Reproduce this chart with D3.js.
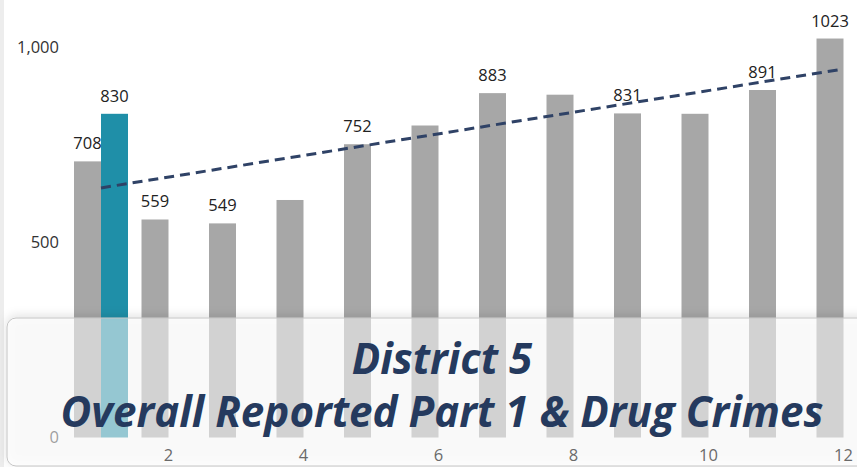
<!DOCTYPE html>
<html>
<head>
<meta charset="utf-8">
<script src="https://cdn.jsdelivr.net/npm/d3@7"></script>
<style>
  html, body { margin: 0; padding: 0; background: #ffffff; }
  svg { display: block; }
</style>
</head>
<body>
<svg id="chart" width="857" height="467"></svg>
<script>
// ---- data ----
const months = [1, 2, 3, 4, 5, 6, 7, 8, 9, 10, 11, 12];
const grayValues = [708, 559, 549, 609, 752, 800, 883, 879, 831, 830, 891, 1023];
const labelledMonths = [1, 2, 3, 5, 7, 9, 11, 12];
const tealMonths = [1];
const tealValues = [830];
const trendMonths = [1, 12];
const trendValues = [640, 945];
const yTicks = [0, 500, 1000];
const xTicks = [2, 4, 6, 8, 10, 12];
const titleLines = ["District 5", "Overall Reported Part 1 & Drug Crimes"];

// ---- layout ----
const W = 857, H = 467;
const svg = d3.select("#chart");
const FONT = "'Open Sans', 'Noto Sans', sans-serif";

const x = d3.scaleBand().domain(months).range([74, 870.5]).paddingInner(0.2).paddingOuter(0);
const sub = d3.scaleBand().domain(["gray", "teal"]).range([0, x.bandwidth()]);
const y = d3.scaleLinear().domain([0, 1000]).range([437.5, 47.5]);

// faint left edge strip
svg.append("rect").attr("x", 0).attr("y", 0).attr("width", 4).attr("height", H).attr("fill", "#ededed");

// y axis
const yAxis = svg.append("g").attr("transform", "translate(59,0)")
  .call(d3.axisLeft(y).tickValues(yTicks).tickFormat(d3.format(",")).tickSize(0).tickPadding(0));
yAxis.select(".domain").remove();
yAxis.selectAll("text").attr("font-family", FONT).attr("font-size", 16.5).attr("fill", "#333");

// gray bars
const grayData = months.map((m, i) => ({ m, v: grayValues[i] }));
svg.append("g").selectAll("rect").data(grayData).join("rect")
  .attr("x", d => x(d.m) + sub("gray"))
  .attr("y", d => y(d.v))
  .attr("width", sub.bandwidth())
  .attr("height", d => y(0) - y(d.v))
  .attr("fill", "#a7a7a7");

// teal bars
const tealData = tealMonths.map((m, i) => ({ m, v: tealValues[i] }));
svg.append("g").selectAll("rect").data(tealData).join("rect")
  .attr("x", d => x(d.m) + sub("teal"))
  .attr("y", d => y(d.v))
  .attr("width", sub.bandwidth())
  .attr("height", d => y(0) - y(d.v))
  .attr("fill", "#1f8fa8");

// labels
const labelG = svg.append("g").attr("font-family", FONT).attr("font-size", 16.5).attr("fill", "#222").attr("text-anchor", "middle");
labelG.selectAll("text.g").data(grayData.filter(d => labelledMonths.includes(d.m))).join("text")
  .attr("class", "g")
  .attr("x", d => x(d.m) + sub("gray") + sub.bandwidth() / 2)
  .attr("y", d => y(d.v) - 12)
  .text(d => d.v);
labelG.selectAll("text.t").data(tealData).join("text")
  .attr("class", "t")
  .attr("x", d => x(d.m) + sub("teal") + sub.bandwidth() / 2)
  .attr("y", d => y(d.v) - 12)
  .text(d => d.v);

// trend line
const trendData = trendMonths.map((m, i) => ({ m, v: trendValues[i] }));
svg.append("path").datum(trendData)
  .attr("d", d3.line().x(d => x(d.m) + x.bandwidth() / 2).y(d => y(d.v)))
  .attr("fill", "none")
  .attr("stroke", "#2f4266")
  .attr("stroke-width", 3)
  .attr("stroke-dasharray", "10,6");

// overlay box with shadow
const defs = svg.append("defs");
const f = defs.append("filter").attr("id", "sh").attr("x", "-10%").attr("y", "-30%").attr("width", "120%").attr("height", "160%");
f.append("feDropShadow").attr("dx", 0).attr("dy", -2).attr("stdDeviation", 5).attr("flood-color", "#000").attr("flood-opacity", 0.2);

svg.append("rect")
  .attr("x", 7).attr("y", 318).attr("width", 880).attr("height", 148).attr("rx", 9)
  .attr("fill", "#ffffff").attr("fill-opacity", 0.5)
  .attr("stroke", "#c4c4c4").attr("stroke-width", 1)
  .attr("filter", "url(#sh)");

// x axis (drawn over the box)
const xAxis = svg.append("g").attr("transform", "translate(0,437.5)")
  .call(d3.axisBottom(x).tickValues(xTicks).tickSize(0).tickPadding(12));
xAxis.select(".domain").remove();
xAxis.selectAll("text").attr("font-family", FONT).attr("font-size", 16.5).attr("fill", "#6a6a6a");

// title
const tg = svg.append("g").attr("font-family", FONT).attr("font-weight", 700).attr("font-style", "italic")
  .attr("fill", "#253a5e").attr("text-anchor", "middle");
const t2 = tg.append("text").attr("x", 442).attr("y", 427).attr("font-size", 34).text(titleLines[1]);
const w2 = t2.node().getComputedTextLength();
const fs = 34 * 763 / w2;
t2.attr("font-size", fs);
tg.append("text").attr("x", 442).attr("y", 374).attr("font-size", fs).text(titleLines[0]);
</script>
</body>
</html>
